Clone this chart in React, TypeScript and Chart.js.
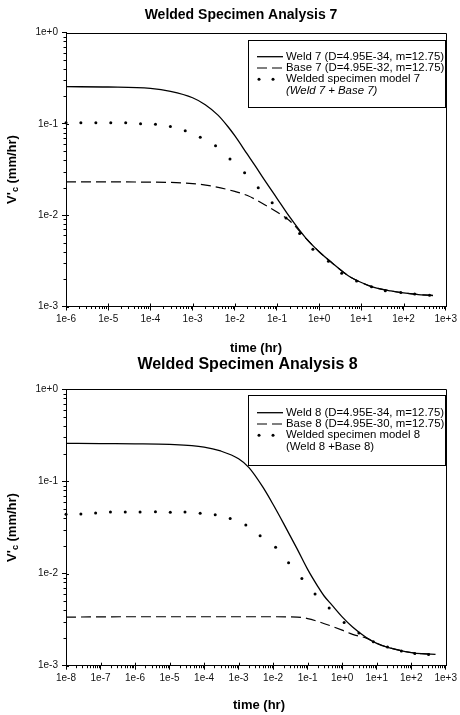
import React, { useEffect, useRef } from "react";
import { Chart, registerables } from "chart.js";
Chart.register(...registerables);

// ---------- Analysis 7 data ----------
const weld7T = [1e-6, 1e-5, 1e-4, 3e-4, 1e-3, 2e-3, 4e-3, 7e-3, 1e-2, 2e-2, 3e-2, 5e-2, 1e-1, 2e-1, 5e-1, 1, 2, 5, 10, 20, 50, 100, 200, 500];
const weld7V = [0.255, 0.253, 0.244, 0.2265, 0.193, 0.162, 0.1245, 0.0923, 0.0741, 0.0462, 0.0351, 0.0245, 0.0153, 0.00955, 0.0055, 0.00398, 0.00302, 0.00216, 0.00183, 0.00162, 0.00148, 0.00141, 0.00136, 0.00132];
const base7T = [1e-6, 1e-4, 1e-3, 3e-3, 1e-2, 2e-2, 5e-2, 1e-1, 2e-1, 5e-1, 1, 2, 5, 10, 20, 50, 100, 200, 500];
const base7V = [0.0232, 0.023, 0.0222, 0.0207, 0.0182, 0.0164, 0.0131, 0.0108, 0.0087, 0.0055, 0.00397, 0.00301, 0.00216, 0.00183, 0.00162, 0.00148, 0.00141, 0.00136, 0.00132];
const model7T = [1e-6, 2.25e-6, 5.1e-6, 1.15e-5, 2.6e-5, 5.85e-5, 1.32e-4, 2.98e-4, 6.7e-4, 1.52e-3, 3.5e-3, 7.7e-3, 1.71e-2, 3.6e-2, 7.7e-2, 0.164, 0.344, 0.71, 1.66, 3.42, 7.7, 17.4, 37, 86, 184, 414];
const model7V = [0.103, 0.103, 0.103, 0.103, 0.103, 0.1003, 0.0988, 0.0935, 0.0841, 0.0714, 0.0574, 0.0412, 0.0292, 0.02, 0.0137, 0.0093, 0.0063, 0.00423, 0.00312, 0.00231, 0.0019, 0.00165, 0.00149, 0.00142, 0.00137, 0.00133];
const xTicks7 = [1e-6, 1e-5, 1e-4, 1e-3, 1e-2, 1e-1, 1, 10, 100, 1000];
const xTickLabels7 = ["1e-6", "1e-5", "1e-4", "1e-3", "1e-2", "1e-1", "1e+0", "1e+1", "1e+2", "1e+3"];
const legend7 = [
  ["Weld 7 (D=4.95E-34, m=12.75)"],
  ["Base 7 (D=4.95E-32, m=12.75)"],
  ["Welded specimen model 7", "(Weld 7 + Base 7)"],
];

// ---------- Analysis 8 data ----------
const weld8T = [1e-8, 1e-7, 1e-6, 1e-5, 1e-4, 3e-4, 1e-3, 2e-3, 5e-3, 1e-2, 2e-2, 5e-2, 1e-1, 2e-1, 3e-1, 5e-1, 1, 2, 5, 10, 20, 50, 100, 200, 500];
const weld8V = [0.259, 0.257, 0.256, 0.252, 0.236, 0.214, 0.176, 0.141, 0.0871, 0.0562, 0.0351, 0.0184, 0.0111, 0.00718, 0.00571, 0.00457, 0.00339, 0.00263, 0.00202, 0.00175, 0.00159, 0.00146, 0.00139, 0.00135, 0.00133];
const base8T = [1e-8, 1e-6, 1e-4, 1e-3, 1e-2, 5e-2, 1e-1, 2e-1, 5e-1, 1, 2, 5, 10, 20, 50, 100, 200, 500];
const base8V = [0.00337, 0.0034, 0.0034, 0.0034, 0.0034, 0.00337, 0.00325, 0.00302, 0.00268, 0.00243, 0.00219, 0.00199, 0.00175, 0.00159, 0.00146, 0.00139, 0.00135, 0.00133];
const model8T = [1e-8, 2.7e-8, 7.2e-8, 1.94e-7, 5.2e-7, 1.4e-6, 3.9e-6, 1.05e-5, 2.8e-5, 7.7e-5, 2.1e-4, 5.7e-4, 1.62e-3, 4.2e-3, 1.18e-2, 2.8e-2, 6.8e-2, 0.164, 0.42, 1.14, 3.05, 8.0, 20.6, 51.8, 127, 318];
const model8V = [0.044, 0.0442, 0.0454, 0.0465, 0.0465, 0.0465, 0.047, 0.0464, 0.0465, 0.0451, 0.0435, 0.0396, 0.0336, 0.0258, 0.0193, 0.0131, 0.00885, 0.006, 0.00424, 0.00294, 0.00227, 0.00182, 0.0016, 0.00144, 0.00136, 0.00132];
const xTicks8 = [1e-8, 1e-7, 1e-6, 1e-5, 1e-4, 1e-3, 1e-2, 1e-1, 1, 10, 100, 1000];
const xTickLabels8 = ["1e-8", "1e-7", "1e-6", "1e-5", "1e-4", "1e-3", "1e-2", "1e-1", "1e+0", "1e+1", "1e+2", "1e+3"];
const legend8 = [
  ["Weld 8 (D=4.95E-34, m=12.75)"],
  ["Base 8 (D=4.95E-30, m=12.75)"],
  ["Welded specimen model 8", "(Weld 8 +Base 8)"],
];

// ---------- shared axis data ----------
const yTicks = [1e-3, 1e-2, 1e-1, 1];
const yTickLabels = ["1e-3", "1e-2", "1e-1", "1e+0"];
const yTitleParts = ["V'", "c", " (mm/hr)"];
const xTitle = "time (hr)";

const FONT = '"Liberation Sans", Arial, Helvetica, sans-serif';

const pts = (t: number[], v: number[]) => t.map((x, i) => ({ x, y: v[i] }));

const decorPlugin = {
  id: "decor",
  afterDraw(chart: any) {
    const cfg = chart.options.plugins.decor;
    if (!cfg) return;
    const ctx = chart.ctx;
    const { left, right, top, bottom } = chart.chartArea;
    ctx.save();
    ctx.strokeStyle = "#000";
    ctx.fillStyle = "#000";
    ctx.lineWidth = 1;
    // frame top & right
    ctx.beginPath();
    ctx.moveTo(Math.round(left), Math.round(top) + 0.5);
    ctx.lineTo(Math.round(right) + 0.5, Math.round(top) + 0.5);
    ctx.lineTo(Math.round(right) + 0.5, Math.round(bottom));
    ctx.stroke();

    // minor / inner ticks
    const xs = chart.scales.x;
    const ys = chart.scales.y;
    const decade = (s: any, cb: (v: number, major: boolean) => void) => {
      const lo = Math.floor(Math.log10(s.min) + 1e-9);
      const hi = Math.ceil(Math.log10(s.max) - 1e-9);
      for (let n = lo; n <= hi; n++) {
        for (let k = 1; k <= 9; k++) {
          const v = k * Math.pow(10, n);
          if (v < s.min * 0.999 || v > s.max * 1.001) continue;
          cb(v, k === 1);
        }
      }
    };
    ctx.beginPath();
    decade(xs, (v, major) => {
      const px = Math.round(xs.getPixelForValue(v)) + 0.5;
      if (major) {
        ctx.moveTo(px, bottom);
        ctx.lineTo(px, bottom - 3);
      } else {
        ctx.moveTo(px, bottom);
        ctx.lineTo(px, bottom + 2.5);
      }
    });
    decade(ys, (v, major) => {
      const py = Math.round(ys.getPixelForValue(v)) + 0.5;
      if (major) {
        ctx.moveTo(left, py);
        ctx.lineTo(left + 3, py);
      } else {
        ctx.moveTo(left, py);
        ctx.lineTo(left - 2.5, py);
      }
    });
    ctx.stroke();

    // chart title
    ctx.textAlign = "center";
    ctx.textBaseline = "middle";
    ctx.font = `bold ${cfg.titleSize}px ${FONT}`;
    ctx.fillText(cfg.title, cfg.titleX, cfg.titleY);

    // x title
    ctx.font = `bold 13px ${FONT}`;
    ctx.fillText(xTitle, cfg.xTitleX, cfg.xTitleY);

    // y title with subscript
    ctx.save();
    ctx.translate(cfg.yTitleX, (top + bottom) / 2);
    ctx.rotate(-Math.PI / 2);
    ctx.textAlign = "left";
    ctx.font = `bold 13px ${FONT}`;
    const w0 = ctx.measureText(yTitleParts[0]).width;
    const w2 = ctx.measureText(yTitleParts[2]).width;
    ctx.font = `bold 9px ${FONT}`;
    const w1 = ctx.measureText(yTitleParts[1]).width;
    let sx = -(w0 + w1 + w2) / 2;
    ctx.font = `bold 13px ${FONT}`;
    ctx.fillText(yTitleParts[0], sx, 0);
    sx += w0;
    ctx.font = `bold 9px ${FONT}`;
    ctx.fillText(yTitleParts[1], sx, 4);
    sx += w1;
    ctx.font = `bold 13px ${FONT}`;
    ctx.fillText(yTitleParts[2], sx, 0);
    ctx.restore();

    // legend
    const L = cfg.legend;
    ctx.fillStyle = "#fff";
    ctx.fillRect(L.left, L.top, L.right - L.left, L.bottom - L.top);
    ctx.strokeStyle = "#000";
    ctx.lineWidth = 1;
    ctx.strokeRect(Math.round(L.left) + 0.5, Math.round(L.top) + 0.5, Math.round(L.right - L.left), Math.round(L.bottom - L.top));
    ctx.fillStyle = "#000";
    ctx.textAlign = "left";
    ctx.textBaseline = "middle";
    let row = 0;
    cfg.legendLines.forEach((lines: string[], i: number) => {
      const ds = chart.data.datasets[i];
      const y = L.firstRow + row * L.rowGap;
      if (ds.showLine === false) {
        [L.sampleX0 + 2, L.sampleX0 + 16].forEach((cx: number) => {
          ctx.beginPath();
          ctx.arc(cx, y, 1.5, 0, Math.PI * 2);
          ctx.fill();
        });
      } else {
        ctx.beginPath();
        ctx.setLineDash(ds.borderDash || []);
        ctx.lineWidth = ds.borderWidth;
        ctx.moveTo(L.sampleX0, y);
        ctx.lineTo(L.sampleX1, y);
        ctx.stroke();
        ctx.setLineDash([]);
      }
      lines.forEach((txt: string, j: number) => {
        const italic = cfg.italicLast && i === cfg.legendLines.length - 1 && j === lines.length - 1 && j > 0;
        ctx.font = `${italic ? "italic " : ""}${L.fontSize}px ${FONT}`;
        ctx.fillText(txt, L.textX, L.firstRow + row * L.rowGap);
        row++;
      });
    });
    ctx.restore();
  },
};

function makeConfig(p: any) {
  const tickFont = { family: FONT, size: 10 };
  return {
    type: "scatter",
    data: {
      datasets: [
        {
          label: p.legend[0].join(" "),
          data: pts(p.weldT, p.weldV),
          showLine: true,
          borderColor: "#000",
          borderWidth: 1.3,
          pointRadius: 0,
          cubicInterpolationMode: "monotone",
        },
        {
          label: p.legend[1].join(" "),
          data: pts(p.baseT, p.baseV),
          showLine: true,
          borderColor: "#000",
          borderWidth: 1.2,
          borderDash: [10, 5],
          pointRadius: 0,
          cubicInterpolationMode: "monotone",
        },
        {
          label: p.legend[2].join(" "),
          data: pts(p.modelT, p.modelV),
          showLine: false,
          pointRadius: 1.5,
          pointBorderWidth: 0,
          pointBackgroundColor: "#000",
          backgroundColor: "#000",
          clip: false,
        },
      ],
    },
    options: {
      responsive: false,
      animation: false,
      devicePixelRatio: 1,
      events: [],
      layout: { padding: p.padding },
      plugins: {
        legend: { display: false },
        tooltip: { enabled: false },
        title: { display: false },
        decor: p.decor,
      },
      scales: {
        x: {
          type: "logarithmic",
          min: p.xTicks[0],
          max: p.xTicks[p.xTicks.length - 1],
          afterBuildTicks: (s: any) => {
            s.ticks = p.xTicks.map((v: number) => ({ value: v }));
          },
          afterFit: (s: any) => {
            s.height = p.xScaleH;
          },
          ticks: {
            autoSkip: false,
            maxRotation: 0,
            padding: 3,
            color: "#111",
            font: tickFont,
            callback: (_v: any, i: number) => p.xTickLabels[i],
          },
          grid: { drawOnChartArea: false, drawTicks: true, tickLength: 4, color: "#000" },
          border: { display: true, color: "#000", width: 1 },
        },
        y: {
          type: "logarithmic",
          min: 1e-3,
          max: 1,
          afterBuildTicks: (s: any) => {
            s.ticks = yTicks.map((v) => ({ value: v }));
          },
          afterFit: (s: any) => {
            s.width = 66;
          },
          ticks: {
            autoSkip: false,
            padding: 4,
            color: "#111",
            font: tickFont,
            callback: (_v: any, i: number) => yTickLabels[i],
          },
          grid: { drawOnChartArea: false, drawTicks: true, tickLength: 4, color: "#000" },
          border: { display: true, color: "#000", width: 1 },
        },
      },
    },
    plugins: [decorPlugin],
  };
}

const cfg7 = {
  weldT: weld7T, weldV: weld7V, baseT: base7T, baseV: base7V, modelT: model7T, modelV: model7V,
  xTicks: xTicks7, xTickLabels: xTickLabels7, legend: legend7,
  padding: { left: 0, right: 12, top: 32.5, bottom: 360 },
  xScaleH: 48.5,
  decor: {
    title: "Welded Specimen Analysis 7", titleX: 241, titleY: 15, titleSize: 14,
    xTitleX: 256, xTitleY: 348.5, yTitleX: 12,
    italicLast: true,
    legendLines: legend7,
    legend: { left: 248, right: 445, top: 40, bottom: 107, firstRow: 56.7, rowGap: 11.3, sampleX0: 257, sampleX1: 283, textX: 286, fontSize: 11.4 },
  },
};

const cfg8 = {
  weldT: weld8T, weldV: weld8V, baseT: base8T, baseV: base8V, modelT: model8T, modelV: model8V,
  xTicks: xTicks8, xTickLabels: xTickLabels8, legend: legend8,
  padding: { left: 0, right: 9.3, top: 389.3, bottom: 0 },
  xScaleH: 49.3,
  decor: {
    title: "Welded Specimen Analysis 8", titleX: 247.5, titleY: 365, titleSize: 16,
    xTitleX: 259, xTitleY: 705, yTitleX: 12,
    italicLast: false,
    legendLines: legend8,
    legend: { left: 248, right: 445, top: 395, bottom: 465, firstRow: 412.7, rowGap: 11.3, sampleX0: 257, sampleX1: 283, textX: 286, fontSize: 11.4 },
  },
};

export default function App() {
  const r1 = useRef<HTMLCanvasElement>(null);
  const r2 = useRef<HTMLCanvasElement>(null);
  useEffect(() => {
    document.body.style.margin = "0";
    document.body.style.background = "#fff";
    const c1 = new Chart(r1.current as HTMLCanvasElement, makeConfig(cfg7) as any);
    const c2 = new Chart(r2.current as HTMLCanvasElement, makeConfig(cfg8) as any);
    return () => {
      c1.destroy();
      c2.destroy();
    };
  }, []);
  const st: React.CSSProperties = { position: "absolute", left: 0, top: 0, width: 460, height: 715 };
  return (
    <div style={{ position: "fixed", left: 0, top: 0, width: 460, height: 715, background: "#fff" }}>
      <canvas ref={r1} width={460} height={715} style={st} />
      <canvas ref={r2} width={460} height={715} style={st} />
    </div>
  );
}
